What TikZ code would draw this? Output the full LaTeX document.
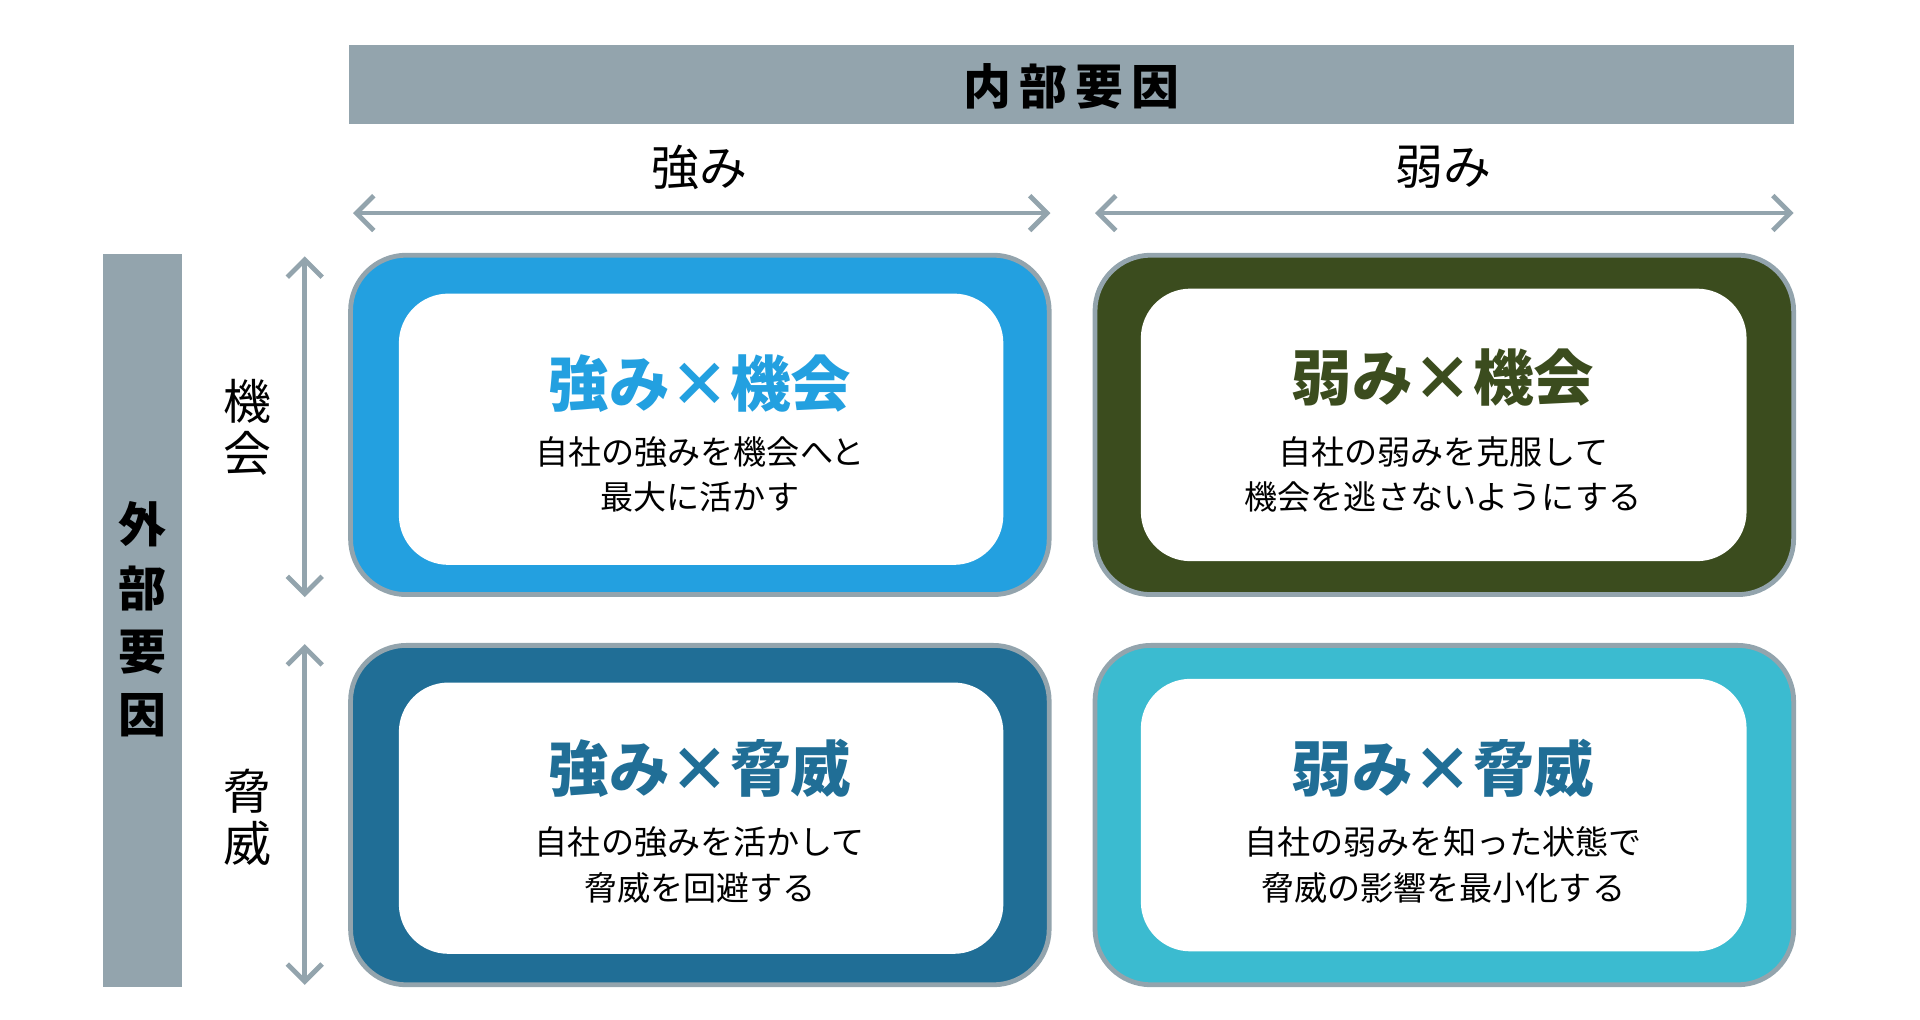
\documentclass[tikz,border=0pt]{standalone}
\usepackage{fontspec}
\newfontfamily\cjk{Noto Sans CJK JP}
\usetikzlibrary{arrows.meta,calc}
\definecolor{BarClr}{HTML}{93A4AD}
\definecolor{SOClr}{HTML}{23A0E0}
\definecolor{WOClr}{HTML}{3B4C1E}
\definecolor{STClr}{HTML}{206E96}
\definecolor{WTClr}{HTML}{3BBBD0}
\begin{document}
\begin{tikzpicture}[x=0.01cm,y=-0.01cm,font=\cjk,
  bar/.style={fill=BarClr,draw=none},
  span/.style={draw=BarClr,line width=1.1pt,{Straight Barb[length=4pt,width=8pt]}-{Straight Barb[length=4pt,width=8pt]}},
  outer/.style={draw=BarClr,line width=1.1pt,rounded corners=0.45cm},
  inner/.style={fill=white,rounded corners=0.4cm},
  ttl/.style={font=\cjk\fontsize{13.9}{15}\selectfont\bfseries},
  txt/.style={font=\cjk\fontsize{7.6}{10.5}\selectfont,align=center},
  side/.style={font=\cjk\fontsize{11}{12}\selectfont,align=center}]
\useasboundingbox (0,0) rectangle (1550,823);

% axes
\fill[bar] (282,36) rectangle (1448,100);
\node[font=\cjk\fontsize{11}{12}\selectfont\bfseries] (internal) at (865,70) {内\,部\,要\,因};
\fill[bar] (83,205) rectangle (147,797);
\node[font=\cjk\fontsize{11}{14.5}\selectfont\bfseries,align=center] (external) at (115,500) {外\\部\\要\\因};

\node[side] (str) at (565,135) {強み};
\node[side] (weak) at (1165,135) {弱み};
\node[side] (opp) at (200,345) {機\\会};
\node[side] (thr) at (200,660) {脅\\威};

\coordinate (s1) at (285,172); \coordinate (s2) at (848,172);
\coordinate (w1) at (884,172); \coordinate (w2) at (1448,172);
\coordinate (o1) at (246,207); \coordinate (o2) at (246,482);
\coordinate (t1) at (246,520); \coordinate (t2) at (246,795);
\draw[span] (s1) -- (s2);
\draw[span] (w1) -- (w2);
\draw[span] (o1) -- (o2);
\draw[span] (t1) -- (t2);

% quadrants
\filldraw[outer,fill=SOClr] (283,206) rectangle (847,480);
\fill[inner] (322,237) rectangle (810,456);
\filldraw[outer,fill=WOClr] (884,206) rectangle (1448,480);
\fill[inner] (921,233) rectangle (1410,453);
\filldraw[outer,fill=STClr] (283,521) rectangle (847,795);
\fill[inner] (322,551) rectangle (810,770);
\filldraw[outer,fill=WTClr] (884,521) rectangle (1448,795);
\fill[inner] (921,548) rectangle (1410,768);

\node[ttl,text=SOClr] (so) at (565,310) {強み×機会};
\node[txt] (sot) at (565,383) {自社の強みを機会へと\\最大に活かす};
\node[ttl,text=WOClr] (wo) at (1165,305) {弱み×機会};
\node[txt] (wot) at (1165,383) {自社の弱みを克服して\\機会を逃さないようにする};
\node[ttl,text=STClr] (st) at (565,620) {強み×脅威};
\node[txt] (stt) at (565,698) {自社の強みを活かして\\脅威を回避する};
\node[ttl,text=STClr] (wt) at (1165,620) {弱み×脅威};
\node[txt] (wtt) at (1165,698) {自社の弱みを知った状態で\\脅威の影響を最小化する};
\end{tikzpicture}
\end{document}
